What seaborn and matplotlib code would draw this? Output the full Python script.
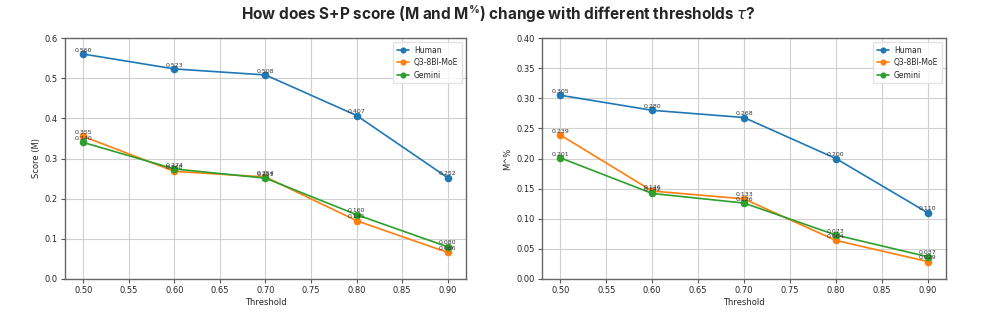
import matplotlib
matplotlib.use("Agg")
import matplotlib.pyplot as plt
import pandas as pd
import seaborn as sns

thresholds = [0.50, 0.60, 0.70, 0.80, 0.90]
models = ["Human", "Q3-8BI-MoE", "Gemini"]

# left panel: Score (M)
m_human = [0.560, 0.523, 0.508, 0.407, 0.252]
m_q3 = [0.355, 0.268, 0.254, 0.145, 0.066]
m_gemini = [0.340, 0.274, 0.251, 0.160, 0.080]

# right panel: M^%
mp_human = [0.305, 0.280, 0.268, 0.200, 0.110]
mp_q3 = [0.239, 0.146, 0.133, 0.064, 0.029]
mp_gemini = [0.201, 0.142, 0.126, 0.073, 0.037]

colors = ["#1f77b4", "#ff7f0e", "#2ca02c"]


def make_df(vals):
    rows = []
    for name, v in zip(models, vals):
        for t, y in zip(thresholds, v):
            rows.append({"Threshold": t, "value": y, "model": name})
    return pd.DataFrame(rows)


sns.set_style("whitegrid")
plt.rcParams["font.family"] = ["DejaVu Sans"]

fig = plt.figure(figsize=(9.97, 3.13), dpi=100)
ax1 = fig.add_axes([65 / 997, 1 - 279 / 313, 401 / 997, 241 / 313])
ax2 = fig.add_axes([542 / 997, 1 - 279 / 313, 404 / 997, 241 / 313])

panels = [
    (ax1, make_df([m_human, m_q3, m_gemini]), "Score (M)", (0, 0.6), 0.1),
    (ax2, make_df([mp_human, mp_q3, mp_gemini]), "M^%", (0, 0.4), 0.05),
]

for ax, df, ylabel, ylim, step in panels:
    sns.lineplot(data=df, x="Threshold", y="value", hue="model", palette=colors,
                 marker="o", markersize=5.5, markeredgewidth=0, linewidth=1.2, ax=ax)
    for _, r in df.iterrows():
        ax.annotate(f"{r['value']:.3f}", (r["Threshold"], r["value"]),
                    xytext=(0, 1), textcoords="offset points",
                    ha="center", va="bottom", fontsize=4.5, color="#333333")
    ax.set_xlim(0.48, 0.92)
    ax.set_ylim(*ylim)
    ax.set_xticks([0.50, 0.55, 0.60, 0.65, 0.70, 0.75, 0.80, 0.85, 0.90])
    ax.set_xticklabels([f"{x:.2f}" for x in ax.get_xticks()])
    yt = [round(i * step, 2) for i in range(int(round(ylim[1] / step)) + 1)]
    ax.set_yticks(yt)
    ax.set_yticklabels([f"{y:.1f}" if step == 0.1 else f"{y:.2f}" for y in yt])
    ax.set_xlabel("Threshold", fontsize=6, labelpad=2)
    ax.set_ylabel(ylabel, fontsize=6, labelpad=3)
    ax.tick_params(axis="both", labelsize=6, length=3, width=0.8, color="#555555",
                   left=True, bottom=True, pad=2)
    ax.grid(True, color="#d0d0d0", linewidth=0.8)
    for s in ax.spines.values():
        s.set_color("#666666")
        s.set_linewidth(1.0)
    leg = ax.legend(loc="upper right", fontsize=5.5, frameon=True, title=None,
                    handlelength=1.6, handletextpad=0.6, borderpad=0.5,
                    labelspacing=0.45, markerscale=0.8)
    leg.get_frame().set_edgecolor("#dddddd")

plt.rcParams["mathtext.default"] = "regular"
fig.text(0.5, 1 - 14 / 313, r"How does S+P score (M and M$^{\%}$) change with different thresholds $\mathit{\tau}$?",
         ha="center", va="center", fontsize=11, fontweight="bold", family=["Inter", "DejaVu Sans"])

fig.savefig("out.png", dpi=100)
